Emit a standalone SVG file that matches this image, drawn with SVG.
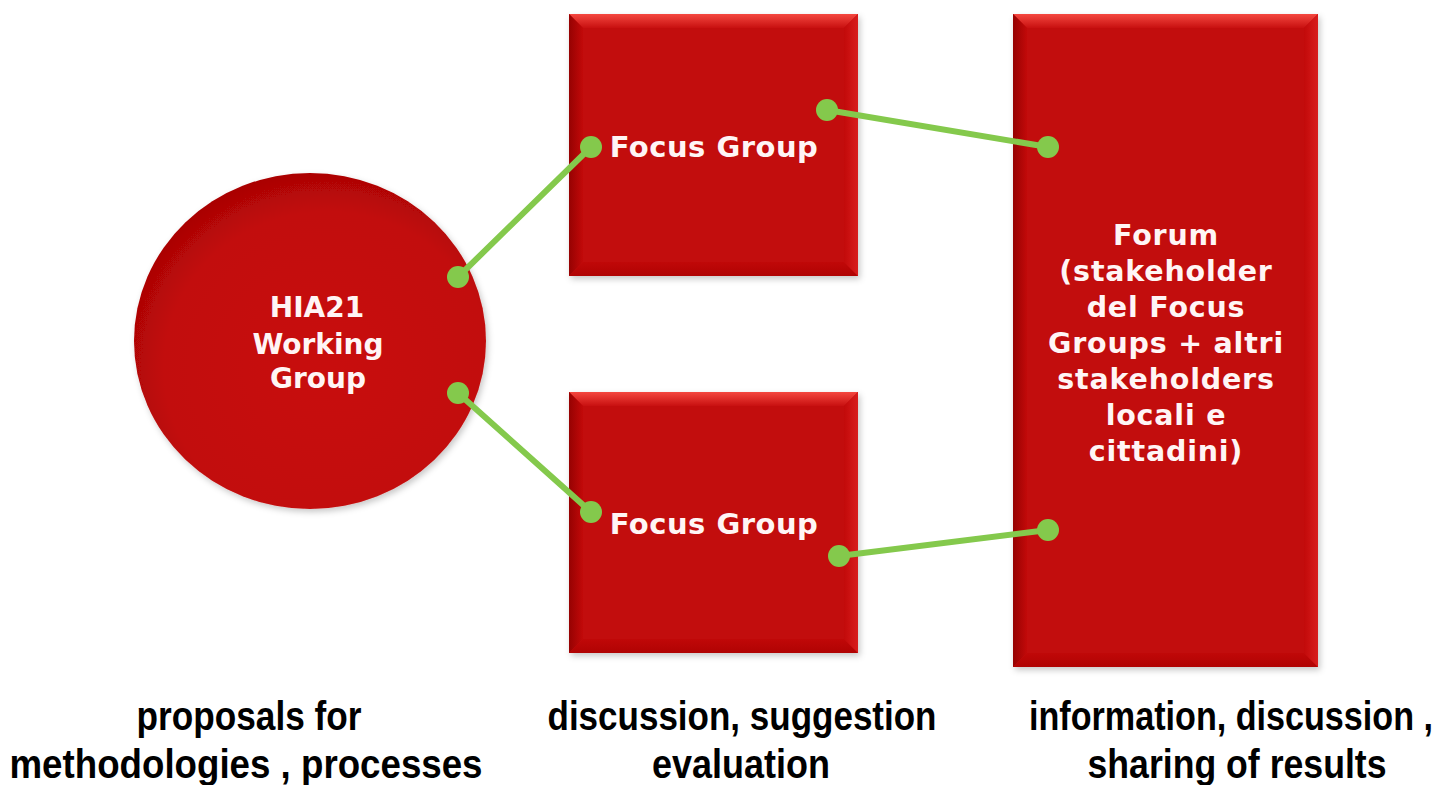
<svg xmlns="http://www.w3.org/2000/svg" width="1451" height="785" viewBox="0 0 1451 785">
<defs>
  <linearGradient id="bevTop" x1="0" y1="0" x2="0" y2="1">
    <stop offset="0" stop-color="#f4473f"/>
    <stop offset="1" stop-color="#c81010"/>
  </linearGradient>
  <linearGradient id="bevLeft" x1="0" y1="0" x2="1" y2="0">
    <stop offset="0" stop-color="#960202"/>
    <stop offset="1" stop-color="#c20909"/>
  </linearGradient>
  <linearGradient id="bevBottom" x1="0" y1="0" x2="0" y2="1">
    <stop offset="0" stop-color="#c00808"/>
    <stop offset="1" stop-color="#b00303"/>
  </linearGradient>
  <linearGradient id="bevRight" x1="0" y1="0" x2="1" y2="0">
    <stop offset="0" stop-color="#c20a0a"/>
    <stop offset="1" stop-color="#d81c1c"/>
  </linearGradient>
  <radialGradient id="disc" cx="0.55" cy="0.58" r="0.62">
    <stop offset="0" stop-color="#c80c0c"/>
    <stop offset="0.75" stop-color="#c20909"/>
    <stop offset="1" stop-color="#a40404"/>
  </radialGradient>
  <filter id="shadow" x="-10%" y="-10%" width="125%" height="125%">
    <feDropShadow dx="2" dy="3" stdDeviation="3" flood-color="#000" flood-opacity="0.22"/>
  </filter>
  <style>
    .face { fill: #c20a0a; }
    .node-text { font-family: "DejaVu Sans", Verdana, sans-serif; font-weight: bold; fill: #fff5f5; text-anchor: middle; }
    .caption { font-family: "Liberation Sans Narrow", "Liberation Sans", Arial, sans-serif; font-weight: bold; font-size: 40px; fill: #000; text-anchor: middle; }
    .conn { stroke: #84c94c; stroke-width: 6; stroke-linecap: round; fill: none; }
    .dot { fill: #84c94c; }
  </style>
</defs>

<rect width="1451" height="785" fill="#ffffff"/>

<g id="node-hia21">
  <ellipse cx="310" cy="341" rx="176" ry="168" fill="url(#disc)" filter="url(#shadow)"/>
  <text class="node-text" font-size="28" x="317" y="317">HIA21</text>
  <text class="node-text" font-size="28" x="318" y="354">Working</text>
  <text class="node-text" font-size="28" x="318" y="388">Group</text>
</g>

<g id="node-focus-top">
  <rect class="face" x="569" y="14" width="289" height="262" filter="url(#shadow)"/>
  <polygon points="569,14 858,14 844,28 583,28" fill="url(#bevTop)"/>
  <polygon points="569,14 583,28 583,262 569,276" fill="url(#bevLeft)"/>
  <polygon points="569,276 583,262 844,262 858,276" fill="url(#bevBottom)"/>
  <polygon points="858,14 844,28 844,262 858,276" fill="url(#bevRight)"/>
  <text class="node-text" font-size="29" letter-spacing="0.5" x="714" y="157">Focus Group</text>
</g>

<g id="node-focus-bottom">
  <rect class="face" x="569" y="392" width="289" height="261" filter="url(#shadow)"/>
  <polygon points="569,392 858,392 844,406 583,406" fill="url(#bevTop)"/>
  <polygon points="569,392 583,406 583,639 569,653" fill="url(#bevLeft)"/>
  <polygon points="569,653 583,639 844,639 858,653" fill="url(#bevBottom)"/>
  <polygon points="858,392 844,406 844,639 858,653" fill="url(#bevRight)"/>
  <text class="node-text" font-size="29" letter-spacing="0.5" x="714" y="534">Focus Group</text>
</g>

<g id="node-forum">
  <rect class="face" x="1013" y="14" width="305" height="653" filter="url(#shadow)"/>
  <polygon points="1013,14 1318,14 1304,28 1027,28" fill="url(#bevTop)"/>
  <polygon points="1013,14 1027,28 1027,653 1013,667" fill="url(#bevLeft)"/>
  <polygon points="1013,667 1027,653 1304,653 1318,667" fill="url(#bevBottom)"/>
  <polygon points="1318,14 1304,28 1304,653 1318,667" fill="url(#bevRight)"/>
  <g class="node-text" font-size="28.5" letter-spacing="0.8">
    <text x="1166" y="245">Forum</text>
    <text x="1166" y="281">(stakeholder</text>
    <text x="1166" y="317">del Focus</text>
    <text x="1166" y="353">Groups + altri</text>
    <text x="1166" y="389">stakeholders</text>
    <text x="1166" y="425">locali e</text>
    <text x="1166" y="461">cittadini)</text>
  </g>
</g>

<g id="connectors">
  <line class="conn" x1="458" y1="277" x2="591" y2="147"/>
  <circle class="dot" cx="458" cy="277" r="11"/>
  <circle class="dot" cx="591" cy="147" r="11"/>
  <line class="conn" x1="458" y1="393" x2="591" y2="512"/>
  <circle class="dot" cx="458" cy="393" r="11"/>
  <circle class="dot" cx="591" cy="512" r="11"/>
  <line class="conn" x1="827" y1="110" x2="1048" y2="147"/>
  <circle class="dot" cx="827" cy="110" r="11"/>
  <circle class="dot" cx="1048" cy="147" r="11"/>
  <line class="conn" x1="839" y1="556" x2="1048" y2="530"/>
  <circle class="dot" cx="839" cy="556" r="11"/>
  <circle class="dot" cx="1048" cy="530" r="11"/>
</g>

<g id="captions">
  <text class="caption" x="249" y="730" textLength="225" lengthAdjust="spacingAndGlyphs">proposals for</text>
  <text class="caption" x="246" y="778" textLength="473" lengthAdjust="spacingAndGlyphs">methodologies , processes</text>
  <text class="caption" x="742" y="730" textLength="389" lengthAdjust="spacingAndGlyphs">discussion, suggestion</text>
  <text class="caption" x="741" y="778" textLength="178" lengthAdjust="spacingAndGlyphs">evaluation</text>
  <text class="caption" x="1231" y="730" textLength="404" lengthAdjust="spacingAndGlyphs">information, discussion ,</text>
  <text class="caption" x="1237" y="778" textLength="299" lengthAdjust="spacingAndGlyphs">sharing of results</text>
</g>
</svg>
